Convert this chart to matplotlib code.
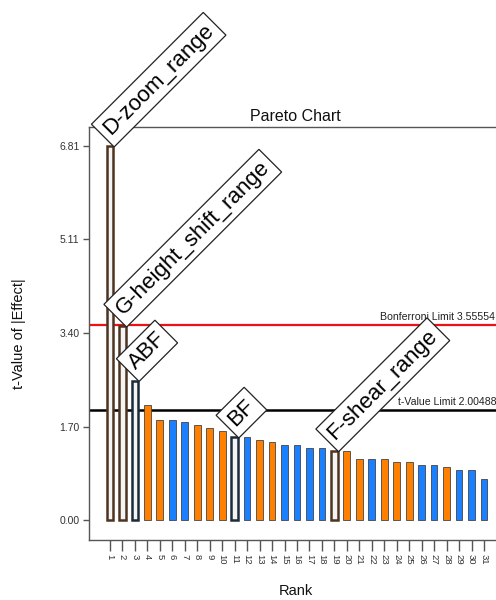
import numpy as np
import matplotlib.pyplot as plt

plt.rcParams['font.family'] = ['Liberation Sans', 'DejaVu Sans']

# data
ranks = list(range(1, 32))
t_values = [6.81, 3.53, 2.54, 2.09, 1.83, 1.82, 1.78, 1.73, 1.67, 1.62,
            1.51, 1.51, 1.46, 1.42, 1.37, 1.36, 1.32, 1.32, 1.26, 1.26,
            1.11, 1.11, 1.11, 1.06, 1.06, 1.01, 1.01, 0.96, 0.91, 0.91, 0.75]
signs = ['o', 'o', 'b', 'o', 'o', 'b', 'b', 'o', 'o', 'o',
         'b', 'b', 'o', 'o', 'b', 'b', 'b', 'b', 'o', 'o',
         'o', 'b', 'o', 'o', 'o', 'b', 'b', 'o', 'b', 'b', 'b']
labels = {1: 'D-zoom_range', 2: 'G-height_shift_range', 3: 'ABF',
          11: 'BF', 19: 'F-shear_range'}
y_ticks = [0.00, 1.70, 3.40, 5.11, 6.81]
bonferroni = 3.55554
t_limit = 2.00488

fill = {'o': '#ff8000', 'b': '#1a80ff'}
hollow_edge = {'o': '#4e3420', 'b': '#1c2a3c'}

fig = plt.figure(figsize=(4.96, 6), dpi=100)
ax = fig.add_axes([0.18, 0.10, 0.833, 0.6883])

for r, v, s in zip(ranks, t_values, signs):
    if r in labels:
        ax.bar(r, v, width=0.54, facecolor='#f4f4f4', edgecolor=hollow_edge[s],
               linewidth=1.8, zorder=3)
    else:
        ax.bar(r, v, width=0.54, facecolor=fill[s], edgecolor='#444444',
               linewidth=0.6, zorder=3)

ax.axhline(bonferroni, color='#ee1111', lw=1.6, zorder=2)
ax.axhline(t_limit, color='black', lw=1.8, zorder=2)
ax.text(22.65, bonferroni + 0.05, 'Bonferroni Limit %.5f' % bonferroni,
        fontsize=7.6, color='#222222', ha='left', va='bottom', clip_on=False)
ax.text(24.1, t_limit + 0.05, 't-Value Limit %.5f' % t_limit,
        fontsize=7.6, color='#222222', ha='left', va='bottom', clip_on=False)

for r, name in labels.items():
    ax.annotate(name, xy=(r, t_values[r - 1]), xytext=(3, 5),
                textcoords='offset points', rotation=45, rotation_mode='anchor',
                ha='left', va='bottom', fontsize=16, zorder=5,
                annotation_clip=False,
                bbox=dict(boxstyle='square,pad=0.25', fc='white', ec='#222222', lw=0.9))

ax.set_xlim(-0.66, 32.48)
ax.set_ylim(-0.364, 7.156)
ax.set_xticks(ranks)
ax.set_xticklabels([str(r) for r in ranks], rotation=-90, fontsize=6.8, color='#333333')
ax.set_yticks(y_ticks)
ax.set_yticklabels(['%.2f' % t for t in y_ticks], fontsize=7.5, color='#333333')
ax.tick_params(axis='x', length=8, width=1, color='#555555', pad=2)
ax.tick_params(axis='y', length=4, width=1, color='#555555', pad=3)
for sp in ax.spines.values():
    sp.set_color('#555555')
    sp.set_linewidth(1)

ax.set_title('Pareto Chart', fontsize=11.5, color='#111111', pad=4)
ax.set_xlabel('Rank', fontsize=10.5, color='#111111', labelpad=14)
ax.set_ylabel('t-Value of |Effect|', fontsize=10.5, color='#111111', labelpad=24)

fig.savefig('out.png', dpi=100)
